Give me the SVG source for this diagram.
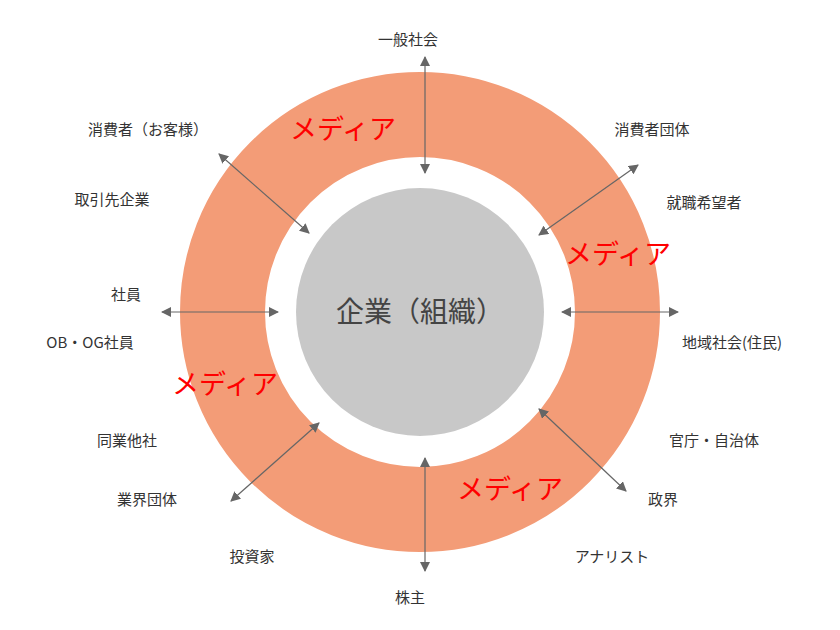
<svg xmlns="http://www.w3.org/2000/svg" width="840" height="630" viewBox="0 0 840 630">
<style>
.t{font-family:"Noto Sans CJK JP","Noto Sans",sans-serif;font-size:15px;fill:#333;text-anchor:middle}
.m{font-family:"Noto Sans CJK JP",sans-serif;font-size:27px;fill:#f00;text-anchor:middle}
.c{stroke:#666;stroke-width:1.2;fill:none;marker-start:url(#a);marker-end:url(#a)}
</style>
<defs><marker id="a" viewBox="0 0 10 10" refX="9" refY="5" markerWidth="10" markerHeight="10" markerUnits="userSpaceOnUse" orient="auto-start-reverse"><path d="M0,0L10,5L0,10z" fill="#666"/></marker></defs>
<rect width="840" height="630" fill="#fff"/>
<g id="ring"><circle cx="420" cy="312" r="197.5" fill="none" stroke="#f39c77" stroke-width="85"/></g>
<g id="center"><circle cx="420" cy="312" r="124" fill="#c8c8c8"/><text x="420" y="322" class="t" style="font-size:28px;fill:#444">企業（組織）</text></g>
<g id="media"><text class="m" x="343" y="139">メディア</text><text class="m" x="618" y="264">メディア</text><text class="m" x="225" y="394">メディア</text><text class="m" x="510" y="499">メディア</text></g>
<g id="connectors">
<line class="c" x1="425" y1="57" x2="425" y2="173"/>
<line class="c" x1="425" y1="458" x2="425" y2="571"/>
<line class="c" x1="162" y1="312" x2="278" y2="312"/>
<line class="c" x1="562" y1="312" x2="678" y2="312"/>
<line class="c" x1="219" y1="154" x2="309" y2="233"/>
<line class="c" x1="638" y1="165" x2="539" y2="235"/>
<line class="c" x1="319" y1="423" x2="231" y2="501"/>
<line class="c" x1="539" y1="409" x2="626" y2="491"/>
</g>
<g id="labels">
<text class="t" x="408" y="45">一般社会</text>
<text class="t" x="652" y="135">消費者団体</text>
<text class="t" x="704" y="208">就職希望者</text>
<text class="t" x="732" y="348">地域社会(住民)</text>
<text class="t" x="714" y="446">官庁・自治体</text>
<text class="t" x="663" y="505">政界</text>
<text class="t" x="612" y="562">アナリスト</text>
<text class="t" x="410" y="603">株主</text>
<text class="t" x="252" y="562">投資家</text>
<text class="t" x="147" y="505">業界団体</text>
<text class="t" x="127" y="446">同業他社</text>
<text class="t" x="90" y="348">OB・OG社員</text>
<text class="t" x="126" y="300">社員</text>
<text class="t" x="112" y="205">取引先企業</text>
<text class="t" x="148" y="135">消費者（お客様）</text>
</g>
</svg>
